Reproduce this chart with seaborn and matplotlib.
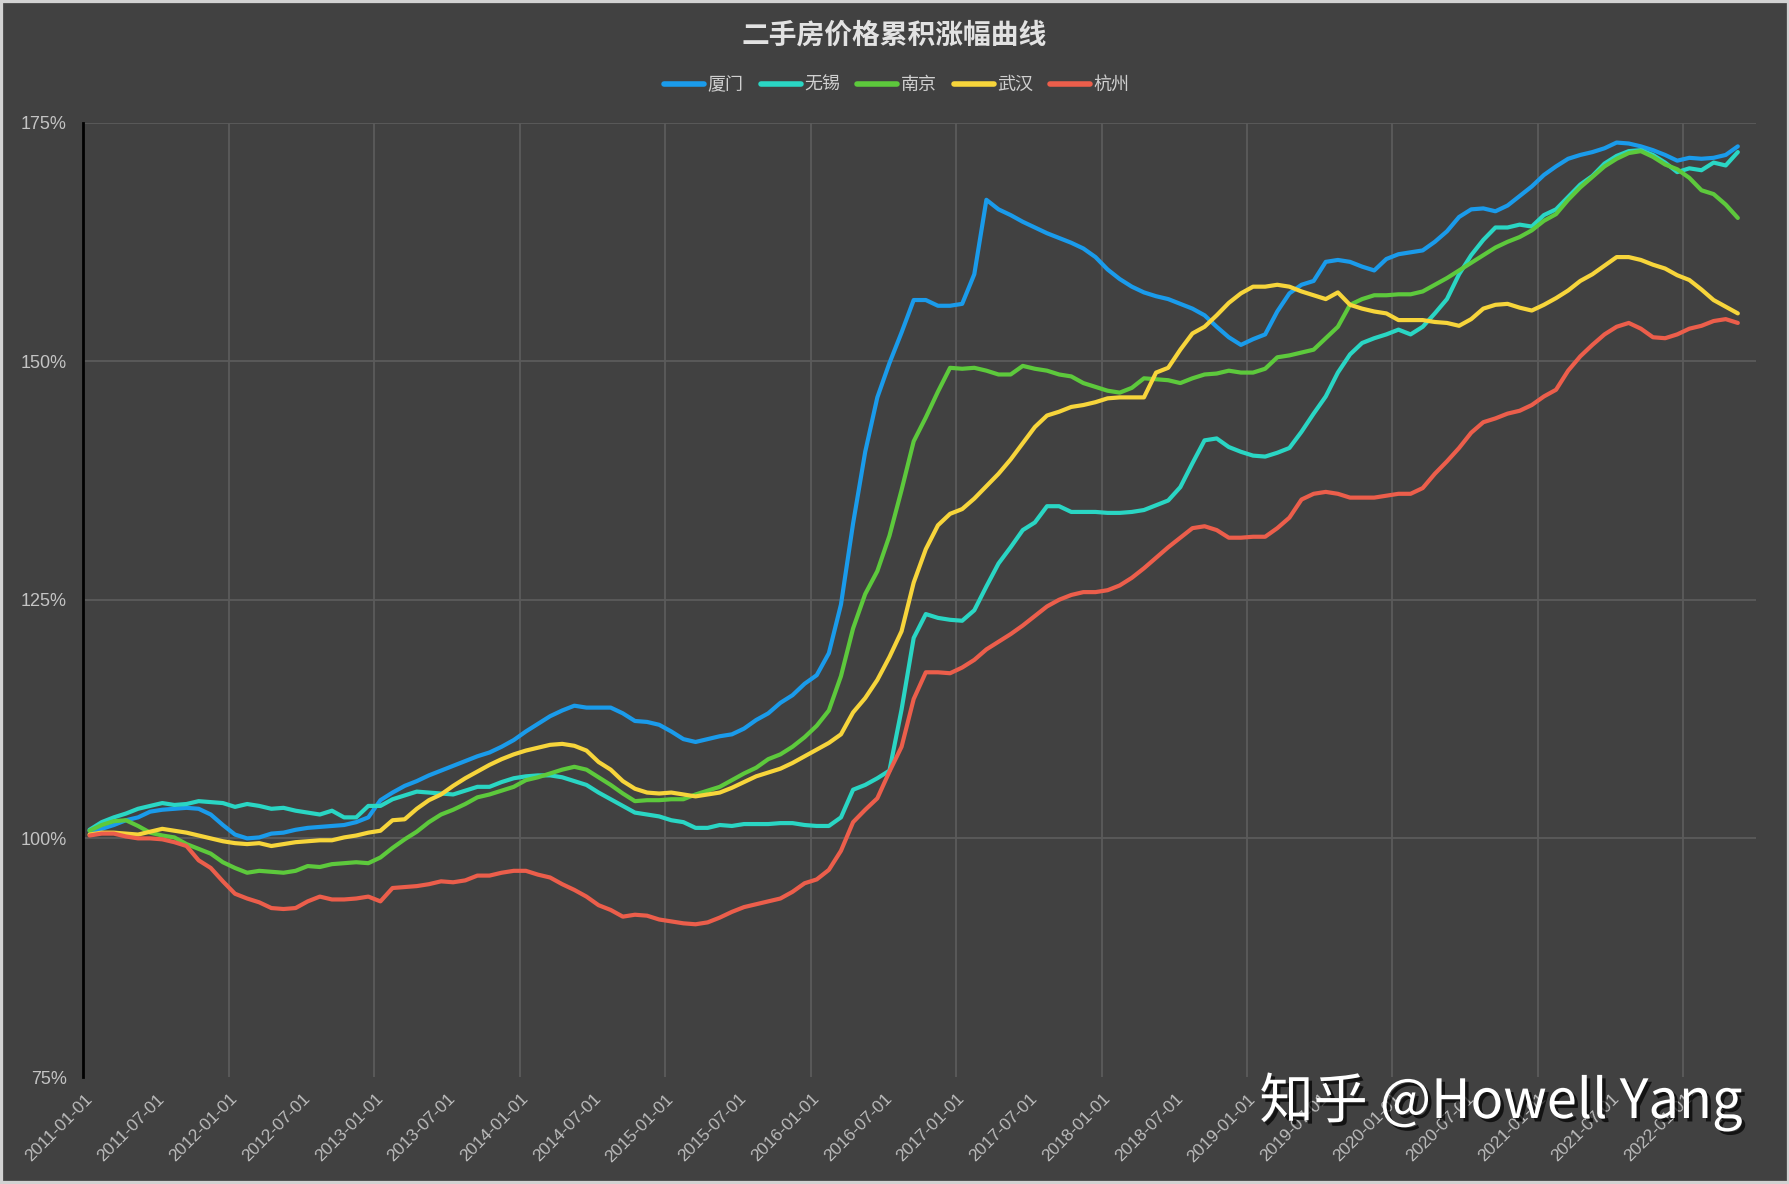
import matplotlib
matplotlib.use('Agg')
import numpy as np
import pandas as pd
import matplotlib.pyplot as plt
import seaborn as sns
from matplotlib.patches import Rectangle
import matplotlib.patheffects as pe

# ---------------- data ----------------
dates = pd.date_range('2011-01-01', periods=137, freq='MS')
tick_labels = [d.strftime('%Y-%m-%d') for d in dates[::6]]

cities = ['厦门', '无锡', '南京', '武汉', '杭州']
colors = ['#1A9BEB', '#2AD6C4', '#5DC93C', '#F7D53B', '#EC5E4B']

xiamen = [
    100.8, 101.0, 101.4, 101.9, 102.2, 102.8, 103.0, 103.1, 103.2, 103.1, 102.5, 101.4,
    100.4, 100.0, 100.1, 100.5, 100.6, 100.9, 101.1, 101.2, 101.3, 101.4, 101.7, 102.2,
    104.0, 104.8, 105.5, 106.0, 106.6, 107.1, 107.6, 108.1, 108.6, 109.0, 109.6, 110.3,
    111.2, 112.0, 112.8, 113.4, 113.9, 113.7, 113.7, 113.7, 113.1, 112.3, 112.2, 111.9,
    111.2, 110.4, 110.1, 110.4, 110.7, 110.9, 111.5, 112.4, 113.1, 114.2, 115.0, 116.2,
    117.1, 119.4, 124.5, 133.0, 140.5, 146.2, 149.8, 153.0, 156.4, 156.4, 155.8, 155.8,
    156.0, 159.1, 166.9, 165.9, 165.3, 164.6, 164.0, 163.4, 162.9, 162.4, 161.8, 160.9,
    159.6, 158.6, 157.8, 157.2, 156.8, 156.5, 156.0, 155.5, 154.8, 153.6, 152.5, 151.7,
    152.3, 152.8, 155.2, 157.1, 158.0, 158.4, 160.4, 160.6, 160.4, 159.9, 159.5, 160.7,
    161.2, 161.4, 161.6, 162.5, 163.6, 165.1, 165.9, 166.0, 165.7, 166.3, 167.3, 168.3,
    169.5, 170.4, 171.2, 171.6, 171.9, 172.3, 172.9, 172.8, 172.5, 172.1, 171.6, 171.0,
    171.3, 171.2, 171.3, 171.6, 172.5,
]
wuxi = [
    100.9, 101.7, 102.2, 102.6, 103.1, 103.4, 103.7, 103.5, 103.6, 103.9, 103.8, 103.7,
    103.3, 103.6, 103.4, 103.1, 103.2, 102.9, 102.7, 102.5, 102.9, 102.2, 102.2, 103.4,
    103.4, 104.1, 104.5, 104.9, 104.8, 104.7, 104.6, 105.0, 105.4, 105.4, 105.9, 106.3,
    106.5, 106.6, 106.6, 106.4, 106.0, 105.6, 104.8, 104.1, 103.4, 102.7, 102.5, 102.3,
    101.9, 101.7, 101.1, 101.1, 101.4, 101.3, 101.5, 101.5, 101.5, 101.6, 101.6, 101.4,
    101.3, 101.3, 102.2, 105.1, 105.6, 106.3, 107.1, 113.5, 121.0, 123.5, 123.1, 122.9,
    122.8, 123.9, 126.4, 128.8, 130.5, 132.3, 133.1, 134.8, 134.8, 134.2, 134.2, 134.2,
    134.1, 134.1, 134.2, 134.4, 134.9, 135.4, 136.8, 139.3, 141.7, 141.9, 141.0, 140.5,
    140.1, 140.0, 140.4, 140.9, 142.6, 144.5, 146.3, 148.8, 150.7, 151.9, 152.4, 152.8,
    153.3, 152.8, 153.6, 155.0, 156.5, 159.1, 161.1, 162.7, 164.0, 164.0, 164.3, 164.1,
    165.3, 165.9, 167.2, 168.5, 169.4, 170.7, 171.5, 172.0, 172.1, 171.6, 170.8, 169.8,
    170.2, 170.0, 170.8, 170.5, 171.9,
]
nanjing = [
    100.8, 101.4, 101.8, 101.9, 101.3, 100.6, 100.3, 100.1, 99.4, 98.9, 98.4, 97.5,
    96.9, 96.4, 96.6, 96.5, 96.4, 96.6, 97.1, 97.0, 97.3, 97.4, 97.5, 97.4,
    98.0, 99.0, 99.9, 100.7, 101.7, 102.5, 103.0, 103.6, 104.3, 104.6, 105.0, 105.4,
    106.1, 106.4, 106.8, 107.2, 107.5, 107.2, 106.4, 105.6, 104.7, 103.9, 104.0, 104.0,
    104.1, 104.1, 104.6, 105.0, 105.4, 106.1, 106.8, 107.4, 108.3, 108.8, 109.6, 110.6,
    111.8, 113.4, 117.0, 122.0, 125.6, 128.0, 131.7, 136.5, 141.6, 144.1, 146.8, 149.3,
    149.2, 149.3, 149.0, 148.6, 148.6, 149.5, 149.2, 149.0, 148.6, 148.4, 147.7, 147.3,
    146.9, 146.7, 147.2, 148.2, 148.1, 148.0, 147.7, 148.2, 148.6, 148.7, 149.0, 148.8,
    148.8, 149.2, 150.4, 150.6, 150.9, 151.2, 152.4, 153.6, 155.9, 156.5, 156.9, 156.9,
    157.0, 157.0, 157.3, 158.0, 158.7, 159.5, 160.3, 161.1, 161.9, 162.5, 163.0, 163.7,
    164.7, 165.4, 166.9, 168.2, 169.3, 170.4, 171.2, 171.8, 172.0, 171.4, 170.6, 170.1,
    169.2, 167.9, 167.5, 166.4, 165.0,
]
wuhan = [
    100.4, 100.6, 100.6, 100.5, 100.4, 100.7, 101.0, 100.8, 100.6, 100.3, 100.0, 99.7,
    99.5, 99.4, 99.5, 99.2, 99.4, 99.6, 99.7, 99.8, 99.8, 100.1, 100.3, 100.6,
    100.8, 101.9, 102.0, 103.1, 104.0, 104.6, 105.5, 106.3, 107.0, 107.7, 108.3, 108.8,
    109.2, 109.5, 109.8, 109.9, 109.7, 109.2, 108.0, 107.2, 106.0, 105.2, 104.8, 104.7,
    104.8, 104.6, 104.4, 104.6, 104.8, 105.3, 105.9, 106.5, 106.9, 107.3, 107.9, 108.6,
    109.3, 110.0, 110.9, 113.2, 114.7, 116.6, 119.0, 121.7, 126.8, 130.3, 132.8, 134.0,
    134.5, 135.6, 136.9, 138.2, 139.7, 141.4, 143.1, 144.3, 144.7, 145.2, 145.4, 145.7,
    146.1, 146.2, 146.2, 146.2, 148.8, 149.3, 151.2, 152.9, 153.6, 154.8, 156.1, 157.1,
    157.8, 157.8, 158.0, 157.8, 157.3, 156.9, 156.5, 157.2, 155.9, 155.5, 155.2, 155.0,
    154.3, 154.3, 154.3, 154.1, 154.0, 153.7, 154.4, 155.5, 155.9, 156.0, 155.6, 155.3,
    155.9, 156.6, 157.4, 158.4, 159.1, 160.0, 160.9, 160.9, 160.6, 160.1, 159.7, 159.0,
    158.5, 157.5, 156.4, 155.7, 155.0,
]
hangzhou = [
    100.3, 100.5, 100.5, 100.2, 100.0, 100.0, 99.9, 99.6, 99.2, 97.7, 96.9, 95.5,
    94.2, 93.7, 93.3, 92.7, 92.6, 92.7, 93.4, 93.9, 93.6, 93.6, 93.7, 93.9,
    93.4, 94.8, 94.9, 95.0, 95.2, 95.5, 95.4, 95.6, 96.1, 96.1, 96.4, 96.6,
    96.6, 96.2, 95.9, 95.2, 94.6, 93.9, 93.0, 92.5, 91.8, 92.0, 91.9, 91.5,
    91.3, 91.1, 91.0, 91.2, 91.7, 92.3, 92.8, 93.1, 93.4, 93.7, 94.4, 95.3,
    95.7, 96.7, 98.7, 101.7, 103.0, 104.2, 107.0, 109.6, 114.6, 117.4, 117.4, 117.3,
    117.9, 118.7, 119.8, 120.6, 121.4, 122.3, 123.3, 124.3, 125.0, 125.5, 125.8, 125.8,
    126.0, 126.5, 127.3, 128.3, 129.4, 130.5, 131.5, 132.5, 132.7, 132.3, 131.5, 131.5,
    131.6, 131.6, 132.5, 133.6, 135.5, 136.1, 136.3, 136.1, 135.7, 135.7, 135.7, 135.9,
    136.1, 136.1, 136.7, 138.2, 139.5, 140.9, 142.5, 143.6, 144.0, 144.5, 144.8, 145.4,
    146.3, 147.0, 149.0, 150.5, 151.7, 152.8, 153.6, 154.0, 153.4, 152.5, 152.4, 152.8,
    153.4, 153.7, 154.2, 154.4, 154.0,
]

y_ticks = [75, 100, 125, 150, 175]
y_tick_labels = ['75%', '100%', '125%', '150%', '175%']

series = [xiamen, wuxi, nanjing, wuhan, hangzhou]
frames = []
for name, vals in zip(cities, series):
    frames.append(pd.DataFrame({'idx': np.arange(len(vals)), 'value': vals, 'city': name}))
df = pd.concat(frames, ignore_index=True)

# ---------------- style ----------------
BG = '#414141'
GRID = '#5b5b5b'
sns.set_theme(style='dark')
plt.rcParams['font.family'] = ['Liberation Sans', 'Noto Sans CJK SC', 'DejaVu Sans']

W, H = 1790, 1184
fig = plt.figure(figsize=(W / 100, H / 100), dpi=100, facecolor=BG)
ax = fig.add_axes([83.5 / W, 1 - 1077 / H, (1756 - 83.5) / W, (1077 - 122.5) / H])
ax.set_facecolor(BG)

sns.lineplot(data=df, x='idx', y='value', hue='city', hue_order=cities,
             palette=colors, linewidth=3.0, ax=ax, sort=False, errorbar=None)
for ln in ax.get_lines():
    ln.set_solid_joinstyle('round')
    ln.set_solid_capstyle('round')

handles, labels = ax.get_legend_handles_labels()
if ax.get_legend() is not None:
    ax.get_legend().remove()

ax.set_xlim(-0.5, 137.5)
ax.set_ylim(75, 175)
ax.set_xlabel('')
ax.set_ylabel('')

ax.set_yticks(y_ticks)
ax.set_yticklabels(y_tick_labels)
ax.set_xticks(np.arange(0, len(dates), 6))
ax.set_xticklabels(tick_labels)
ax.set_xticks(np.arange(12, len(dates), 12) - 0.5, minor=True)

ax.grid(False)
ax.yaxis.grid(True, which='major', color=GRID, linewidth=1.3)
ax.xaxis.grid(True, which='minor', color=GRID, linewidth=1.3)
ax.get_ygridlines()[0].set_visible(False)
ax.set_axisbelow(True)

ax.tick_params(axis='both', which='both', length=0)
ax.tick_params(axis='y', pad=12, labelsize=13, labelcolor='#c4c4c4')
ax.tick_params(axis='x', pad=14, labelsize=12.5, labelcolor='#bcbcbc')
for lbl in ax.get_xticklabels():
    lbl.set_rotation(45)
    lbl.set_ha('right')
    lbl.set_va('center')
    lbl.set_rotation_mode('anchor')

for s in ['top', 'right', 'bottom']:
    ax.spines[s].set_visible(False)
ax.spines['left'].set_color('black')
ax.spines['left'].set_linewidth(2)

# title & legend
fig.text(894 / W, 1 - 36 / H, '二手房价格累积涨幅曲线', ha='center', va='center',
         fontsize=20, color='#e2e2e2', fontweight='bold',
         family=['Noto Sans CJK SC', 'DejaVu Sans'])
leg = fig.legend(handles, labels, loc='center', bbox_to_anchor=(897 / W, 1 - 85 / H),
                 ncol=5, frameon=False, handlelength=2.2,
                 handletextpad=0.2, columnspacing=0.95, labelcolor='#d0d0d0',
                 prop={'family': ['Noto Sans CJK SC', 'DejaVu Sans'], 'size': 13})
for lh in leg.get_lines():
    lh.set_linewidth(4)
    lh.set_solid_capstyle('round')

# watermark
fig.text(1743 / W, 1 - 1118 / H, '知乎 @Howell Yang', ha='right', va='baseline',
         fontsize=39, color='white', family=['Noto Sans CJK SC', 'DejaVu Sans'],
         path_effects=[pe.withSimplePatchShadow(offset=(2.5, -2.5), shadow_rgbFace='black', alpha=0.7)])

# frame
fig.add_artist(Rectangle((0, 0), 1, 1, transform=fig.transFigure, fill=False,
                         edgecolor='#d2d2d2', linewidth=4.5, zorder=20))

fig.savefig('out.png', dpi=100, facecolor=fig.get_facecolor())
